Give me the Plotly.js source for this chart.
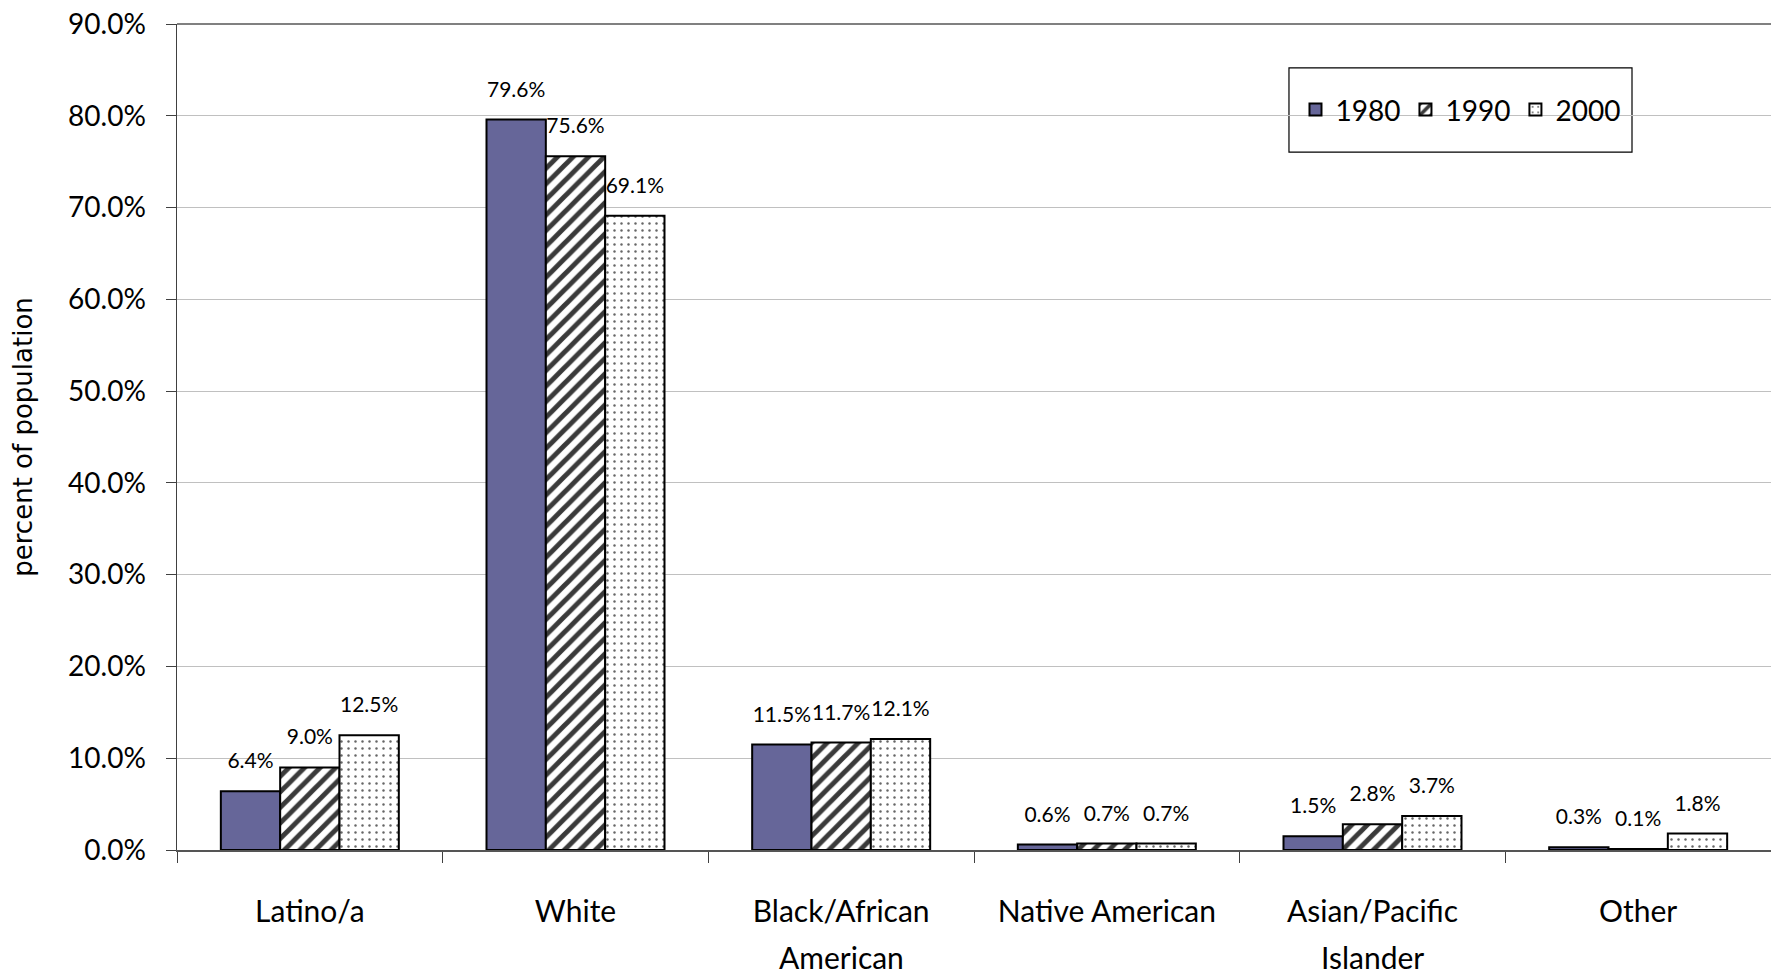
<!DOCTYPE html>
<html>
<head>
<meta charset="utf-8">
<script src="https://cdn.plot.ly/plotly-3.0.1.min.js"></script>
<style>html,body{margin:0;padding:0;background:#fff;}#chart{width:1771px;height:975px;}</style>
</head>
<body>
<div id="chart"></div>
<script>
const categories = ["Latino/a", "White", "Black/African American", "Native American", "Asian/Pacific Islander", "Other"];
const labelLine1 = ["Latino/a", "White", "Black/African", "Native American", "Asian/Pacific", "Other"];
const labelLine2 = ["", "", "American", "", "Islander", ""];
const years = ["1980", "1990", "2000"];
const values1980 = [6.4, 79.6, 11.5, 0.6, 1.5, 0.3];
const values1990 = [9.0, 75.6, 11.7, 0.7, 2.8, 0.1];
const values2000 = [12.5, 69.1, 12.1, 0.7, 3.7, 1.8];
const yTicks = [0, 10, 20, 30, 40, 50, 60, 70, 80, 90];
const yTickLabels = yTicks.map(v => v.toFixed(1) + "%");

const FONT = "Lato, 'Open Sans', sans-serif";
const series = [values1980, values1990, values2000];
const markers = [
  {color: "#666699", line: {color: "#000", width: 2}},
  {color: "#ffffff", line: {color: "#000", width: 2}, pattern: {shape: "/", fgcolor: "#3a3a3a", bgcolor: "#ffffff", size: 11, solidity: 0.45}},
  {color: "#ffffff", line: {color: "#000", width: 2}, pattern: {shape: ".", fgcolor: "#666666", bgcolor: "#ffffff", size: 7, solidity: 0.1}}
];

const traces = series.map((vals, i) => ({
  type: "bar",
  name: years[i],
  x: categories,
  y: vals,
  marker: markers[i],
  texttemplate: "<span style='font-size:21px'>%{y:.1f}%</span><br> ",
  textposition: "outside",
  constraintext: "none",
  textfont: {family: FONT, size: 13, color: "#000"},
  cliponaxis: false,
  hoverinfo: "x+y+name"
}));

const annotations = categories.map((c, i) => labelLine2[i] ? {
  x: c, xref: "x", y: -0.130, yref: "paper",
  text: labelLine2[i], showarrow: false, yanchor: "middle",
  font: {family: FONT, size: 30, color: "#000"}
} : null).filter(a => a);

const layout = {
  width: 1771, height: 975,
  margin: {l: 177, r: 0, t: 24, b: 125},
  paper_bgcolor: "#fff", plot_bgcolor: "#fff",
  barmode: "group", bargap: 0.33, bargroupgap: 0,
  showlegend: true,
  legend: {
    orientation: "h", x: 0.8052, y: 0.896, xanchor: "center", yanchor: "middle",
    borderwidth: 0, bgcolor: "rgba(0,0,0,0)",
    font: {family: FONT, size: 28, color: "#000"}
  },
  xaxis: {
    type: "category", categoryorder: "array", categoryarray: categories,
    tickvals: categories, ticktext: labelLine1,
    tickfont: {family: FONT, size: 30, color: "#000"},
    ticks: "outside", tickson: "boundaries", ticklen: 11, tickcolor: "#404040", tickwidth: 1,
    ticklabelstandoff: 34,
    showline: true, linecolor: "#555", linewidth: 1.5,
    showgrid: false, zeroline: false, fixedrange: true
  },
  yaxis: {
    range: [0, 90], tickmode: "array", tickvals: yTicks, ticktext: yTickLabels,
    tickfont: {family: FONT, size: 28, color: "#000"},
    ticks: "outside", ticklen: 10, tickcolor: "#404040",
    ticklabelstandoff: 14,
    showline: true, linecolor: "#404040", linewidth: 1.5,
    showgrid: true, gridcolor: "#c0c0c0", gridwidth: 1,
    zeroline: false, fixedrange: true,
    title: {text: "percent of population", font: {family: "'DejaVu Sans', sans-serif", size: 26, color: "#000"}, standoff: 28}
  },
  shapes: [
    {type: "line", xref: "paper", yref: "paper", x0: 0, x1: 1, y0: 1, y1: 1, line: {color: "#808080", width: 2}},
    {type: "rect", xref: "paper", yref: "paper", x0: 0.6976, x1: 0.9128, y0: 0.845, y1: 0.9468, layer: "below", fillcolor: "#fff", line: {color: "#000", width: 1.2}}
  ],
  annotations: annotations
};

Plotly.newPlot("chart", traces, layout, {displayModeBar: false, staticPlot: true});
</script>
</body>
</html>
